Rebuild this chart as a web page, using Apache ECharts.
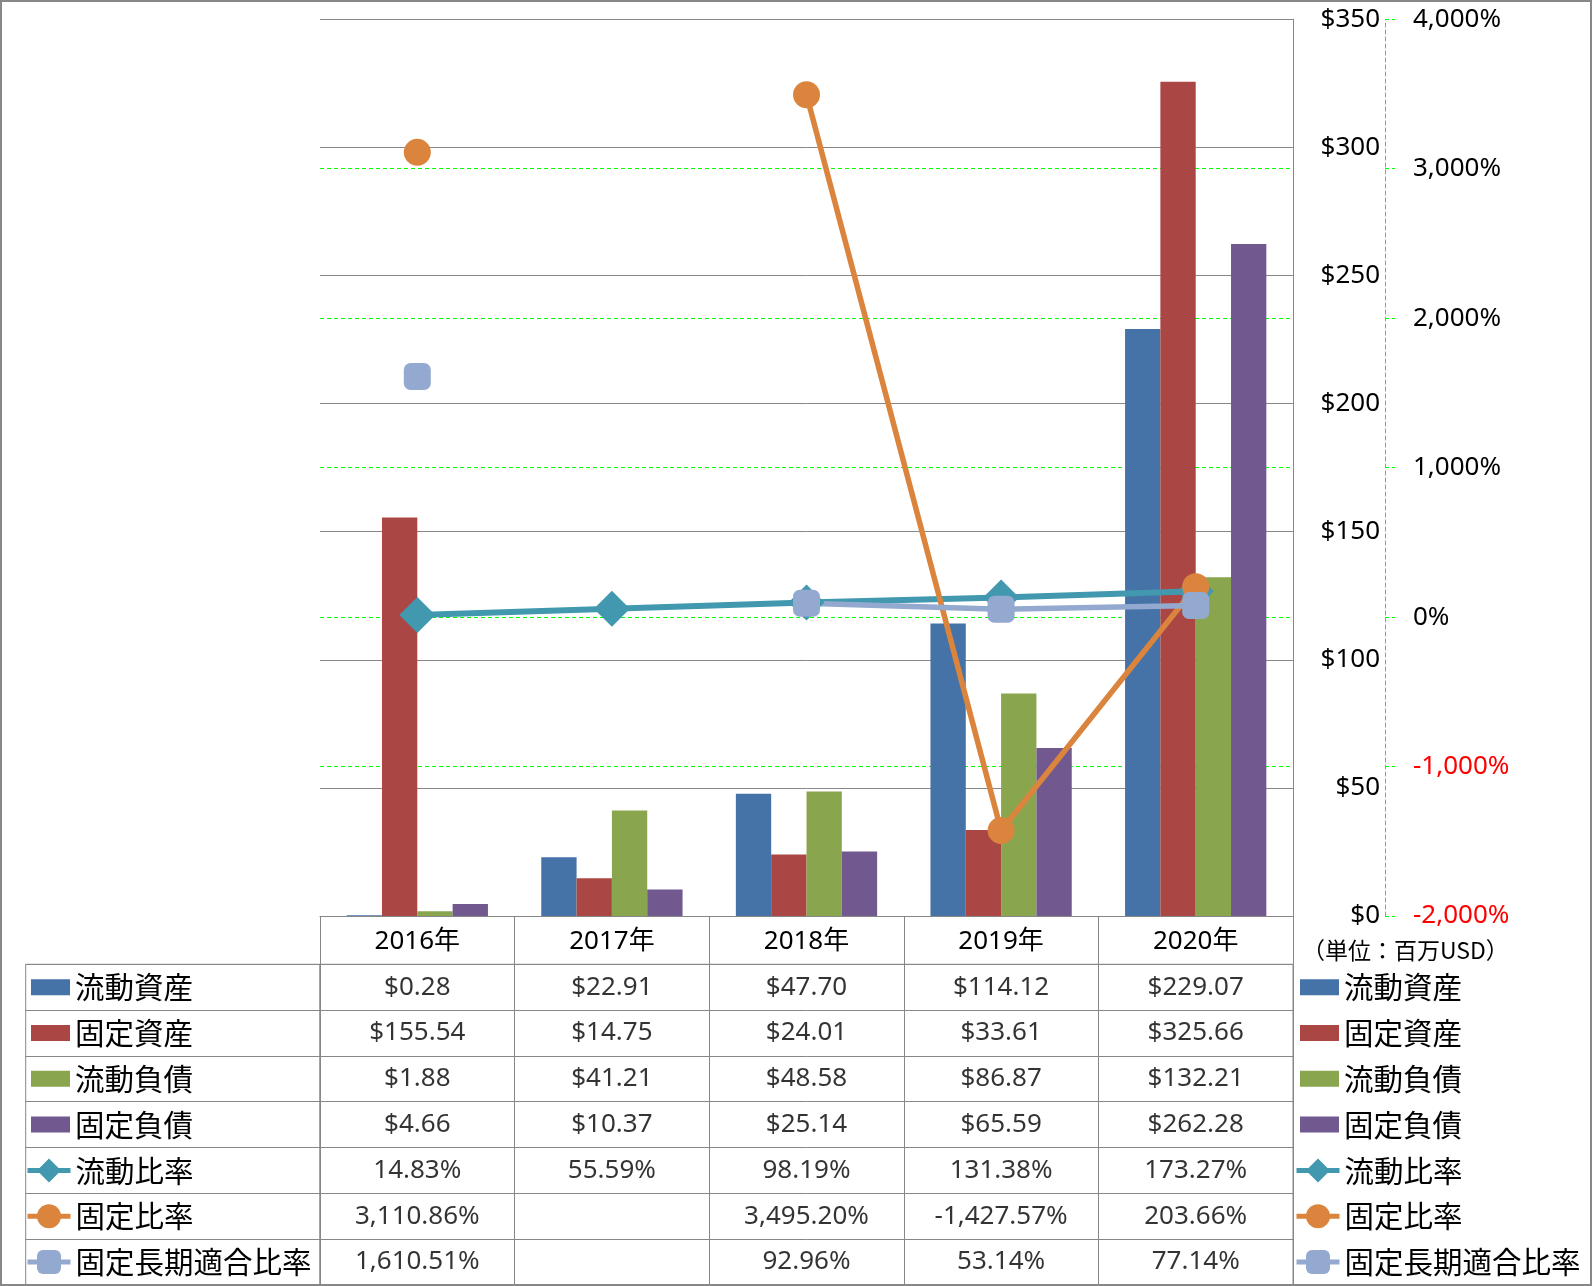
<!DOCTYPE html>
<html><head><meta charset="utf-8">
<script src="https://cdn.jsdelivr.net/npm/echarts@6/dist/echarts.min.js"></script>
<style>html,body{margin:0;padding:0;background:#fff}#c{width:1592px;height:1286px}</style>
</head><body><div id="c"></div>
<script>
// ---- data ----
const years = ['2016年', '2017年', '2018年', '2019年', '2020年'];
const currentAssets      = [0.28, 22.91, 47.70, 114.12, 229.07];
const fixedAssets        = [155.54, 14.75, 24.01, 33.61, 325.66];
const currentLiabilities = [1.88, 41.21, 48.58, 86.87, 132.21];
const fixedLiabilities   = [4.66, 10.37, 25.14, 65.59, 262.28];
const currentRatio       = [14.83, 55.59, 98.19, 131.38, 173.27];
const fixedRatio         = [3110.86, null, 3495.20, -1427.57, 203.66];
const fixedLongTermRatio = [1610.51, null, 92.96, 53.14, 77.14];
const usdTicks = [0, 50, 100, 150, 200, 250, 300, 350];
const pctTicks = [-2000, -1000, 0, 1000, 2000, 3000, 4000];
const unitLabel = '（単位：百万USD）';

// ---- styles ----
const GRAY = '#878787';
const GREEN = '#00ff00';
const NUM_FONT = "'Noto Sans', 'Noto Sans CJK JP', sans-serif";
const CJK_FONT = "'Noto Sans CJK JP', sans-serif";
const COLORS = {
  ca: '#4572A7', fa: '#AA4643', cl: '#89A54E', fl: '#71588F',
  cr: '#4198AF', fr: '#DB843D', flr: '#93A9CF'
};

function fmtNum(v) { return v.toLocaleString('en-US', {minimumFractionDigits: 2, maximumFractionDigits: 2}); }
function fmtUsd(v) { return '$' + fmtNum(v); }
function fmtPct(v) { return fmtNum(v) + '%'; }

const tableRows = [
  {name: '流動資産', values: currentAssets, fmt: fmtUsd},
  {name: '固定資産', values: fixedAssets, fmt: fmtUsd},
  {name: '流動負債', values: currentLiabilities, fmt: fmtUsd},
  {name: '固定負債', values: fixedLiabilities, fmt: fmtUsd},
  {name: '流動比率', values: currentRatio, fmt: fmtPct},
  {name: '固定比率', values: fixedRatio, fmt: fmtPct},
  {name: '固定長期適合比率', values: fixedLongTermRatio, fmt: fmtPct}
];
const rowNames = tableRows.map(r => r.name);
const tableCells = [];
tableRows.forEach((row, r) => row.values.forEach((v, c) => { if (v !== null) tableCells.push([c, r, v]); }));

const barNames = rowNames.slice(0, 4);
const lineNames = rowNames.slice(4);

// layout constants
const PLOT_L = 320, PLOT_R = 1293, PLOT_T = 19.3, PLOT_B = 916;
const TABLE_T = 964.3, ROW_H = 45.8;

const chart = echarts.init(document.getElementById('c'), null, {renderer: 'canvas'});

function bar(name, data, color) {
  return {type: 'bar', name, data, xAxisIndex: 0, yAxisIndex: 0,
    barGap: '0%', barCategoryGap: '27.4%', itemStyle: {color}, silent: true};
}
function line(name, data, color, symbol, size, width) {
  return {type: 'line', name, data: data.map(v => v === null ? '-' : v),
    xAxisIndex: 0, yAxisIndex: 1, symbol, symbolSize: size, showAllSymbol: true,
    lineStyle: {color, width}, itemStyle: {color, borderWidth: 0}, z: 5, silent: true};
}

const legendText = {fontSize: 29.5, fontFamily: CJK_FONT, color: '#000', lineHeight: ROW_H};
function legend(names, left, top, isBar) {
  const l = {orient: 'vertical', left, top, padding: 0, itemGap: 0, selectedMode: false,
    data: names, textStyle: legendText};
  if (isBar) { l.icon = 'rect'; l.itemWidth = 39; l.itemHeight = 16; }
  else { l.itemWidth = 43; l.itemHeight = 30; l.lineStyle = {width: 5}; }
  return l;
}

chart.setOption({
  animation: false,
  textStyle: {fontFamily: NUM_FONT},
  grid: [
    {left: PLOT_L, right: 1592 - PLOT_R, top: PLOT_T, bottom: 1286 - PLOT_B},
    {left: PLOT_L, right: 1592 - PLOT_R, top: TABLE_T, bottom: 1286 - (TABLE_T + ROW_H * 7),
      show: true, borderColor: GRAY, borderWidth: 1, backgroundColor: 'transparent'},
    {left: 25.7, right: 1592 - PLOT_L, top: TABLE_T, bottom: 1286 - (TABLE_T + ROW_H * 7),
      show: true, borderColor: GRAY, borderWidth: 1, backgroundColor: 'transparent'}
  ],
  xAxis: [
    {type: 'category', gridIndex: 0, data: years,
      axisLine: {show: true, lineStyle: {color: GRAY, width: 1}},
      axisTick: {show: true, interval: 0, length: TABLE_T - PLOT_B, lineStyle: {color: GRAY, width: 1}},
      axisLabel: {interval: 0, margin: 26, verticalAlign: 'middle', fontSize: 26, color: '#000', fontFamily: NUM_FONT},
      splitLine: {show: false}},
    {type: 'category', gridIndex: 1, data: years,
      axisLine: {show: false}, axisTick: {show: false}, axisLabel: {show: false},
      splitLine: {show: true, interval: 0, lineStyle: {color: GRAY, width: 1}}},
    {type: 'category', gridIndex: 2, data: [''], show: false}
  ],
  yAxis: [
    {type: 'value', gridIndex: 0, position: 'right', z: 1,
      min: usdTicks[0], max: usdTicks[usdTicks.length - 1], interval: usdTicks[1] - usdTicks[0],
      axisLine: {show: true, lineStyle: {color: GRAY, width: 1}},
      axisTick: {show: false},
      axisLabel: {formatter: v => '$' + v, align: 'right', margin: 87, fontSize: 26, color: '#000', fontFamily: NUM_FONT},
      splitLine: {show: true, lineStyle: {color: GRAY, width: 1}}},
    {type: 'value', gridIndex: 0, position: 'right', offset: 92, z: 0,
      min: pctTicks[0], max: pctTicks[pctTicks.length - 1], interval: pctTicks[1] - pctTicks[0],
      axisLine: {show: true, lineStyle: {color: GREEN, width: 1, type: [4, 3]}},
      axisTick: {show: true, length: 10, lineStyle: {color: GREEN, width: 1, type: [4, 3]}},
      axisLabel: {margin: 28, fontSize: 26, fontFamily: NUM_FONT,
        formatter: v => v.toLocaleString('en-US') + '%',
        color: v => (Number(v) < 0 ? '#ff0000' : '#000000')},
      splitLine: {show: true, lineStyle: {color: GREEN, width: 1, type: [4, 3]}}},
    {type: 'category', gridIndex: 1, data: rowNames, inverse: true,
      axisLine: {show: false}, axisTick: {show: false}, axisLabel: {show: false},
      splitLine: {show: true, interval: 0, lineStyle: {color: GRAY, width: 1}}},
    {type: 'category', gridIndex: 2, data: rowNames, inverse: true,
      axisLine: {show: false}, axisTick: {show: false}, axisLabel: {show: false},
      splitLine: {show: true, interval: 0, lineStyle: {color: GRAY, width: 1}}}
  ],
  legend: [
    legend(barNames, 31, TABLE_T, true),
    legend(lineNames, 25, TABLE_T + ROW_H * 4, false),
    legend(barNames, 1300, TABLE_T, true),
    legend(lineNames, 1294, TABLE_T + ROW_H * 4, false)
  ],
  series: [
    bar('流動資産', currentAssets, COLORS.ca),
    bar('固定資産', fixedAssets, COLORS.fa),
    bar('流動負債', currentLiabilities, COLORS.cl),
    bar('固定負債', fixedLiabilities, COLORS.fl),
    line('流動比率', currentRatio, COLORS.cr, 'diamond', 36, 6),
    line('固定比率', fixedRatio, COLORS.fr, 'circle', 27, 5.5),
    line('固定長期適合比率', fixedLongTermRatio, COLORS.flr, 'roundRect', 27, 5.5),
    {type: 'scatter', name: 'table', xAxisIndex: 1, yAxisIndex: 2, data: tableCells,
      symbolSize: 1, itemStyle: {color: 'rgba(0,0,0,0)'}, silent: true,
      label: {show: true, position: 'inside', fontSize: 26, fontFamily: NUM_FONT, color: '#000',
        formatter: p => tableRows[p.value[1]].fmt(p.value[2])}}
  ],
  graphic: [
    {type: 'rect', shape: {x: 1, y: 1, width: 1590, height: 1284}, style: {fill: null, stroke: GRAY, lineWidth: 2}, silent: true, z: 100},
    {type: 'text', x: 1302, y: 950, silent: true,
      style: {text: unitLabel, font: "23px 'Noto Sans CJK JP', sans-serif", fill: '#000', verticalAlign: 'middle', align: 'left'}}
  ]
});
</script>
</body></html>
